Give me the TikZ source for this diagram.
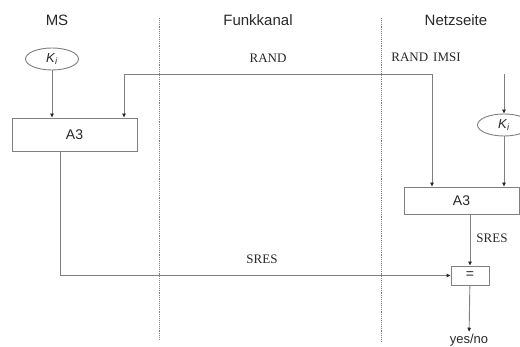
\documentclass[tikz,border=0pt]{standalone}
\usepackage{fontspec}
\setmainfont{Liberation Serif}
\setsansfont{Liberation Sans}
\usetikzlibrary{positioning,arrows.meta,shapes}
\definecolor{linegray}{RGB}{128,128,128}
\definecolor{textgray}{RGB}{40,40,40}
\tikzset{
  head/.style={font=\sffamily\fontsize{15}{18}\selectfont, text=textgray},
  lbl/.style={font=\fontsize{13}{15}\selectfont, text=textgray, inner sep=0pt},
  keynode/.style={ellipse, draw=linegray, line width=0.9pt, minimum width=53, minimum height=22,
    inner sep=0pt, font=\sffamily\fontsize{13}{15}\selectfont, text=textgray},
  algbox/.style={rectangle, draw=linegray, line width=0.9pt, inner sep=0pt,
    font=\sffamily\fontsize{14}{16}\selectfont, text=textgray},
  conn/.style={draw=linegray, line width=0.9pt,
    >={Triangle[length=4pt,width=3.5pt,color=textgray]}},
  sep/.style={draw=linegray, line width=0.9pt, densely dotted}
}
\begin{document}
\begin{tikzpicture}[x=1pt, y=-1pt]
  \useasboundingbox (0,0) rectangle (520,347);

  \node[head] (ms) at (57,20) {MS};
  \node[head] (funk) at (258,20) {Funkkanal};
  \node[head] (netz) at (456,20) {Netzseite};

  \draw[sep] (159,18) -- (159,340);
  \draw[sep] (381,18) -- (381,342);

  % Mobilstation
  \node[keynode] (kims) at (52,59) {\textit{K}\textsubscript{\textit{i}}};
  \node[algbox, minimum width=125, minimum height=33] (a3ms) at (74.5,134.5) {A3};

  % Netzseite
  \node[keynode] (kinetz) at (504,125) {\textit{K}\textsubscript{\textit{i}}};
  \node[algbox, minimum width=115, minimum height=27] (a3netz) at (461.5,200.5) {A3};
  \node[algbox, minimum width=38, minimum height=19] (cmp) at (470,275.5) {=};
  \node[font=\sffamily\fontsize{13}{15}\selectfont, text=textgray, inner sep=2pt] (yesno) at (469,340) {yes/no};

  \coordinate (randl) at (124,74);
  \coordinate (randr) at (432,74);
  \coordinate (imsi) at (504,74);
  \coordinate (sresms) at (60,151);

  \draw[conn,->] (kims) -- (kims |- a3ms.north);
  \draw[conn,<->] (randl |- a3ms.north) -- (randl) -- (randr) -- (randr |- a3netz.north);
  \draw[conn,->] (imsi) -- (kinetz);
  \draw[conn,->] (kinetz) -- (kinetz |- a3netz.north);
  \draw[conn,->] (cmp |- a3netz.south) -- (cmp);
  \draw[conn,->] (sresms) |- (cmp);
  \draw[conn,->] (cmp) -- (yesno);

  \node[lbl] (rand) at (268,58) {RAND};
  \node[lbl] (randimsi) at (426,57) {RAND\hspace{5pt}IMSI};
  \node[lbl] (sresnetz) at (492,238) {SRES};
  \node[lbl] (sres) at (262,259) {SRES};
\end{tikzpicture}
\end{document}
